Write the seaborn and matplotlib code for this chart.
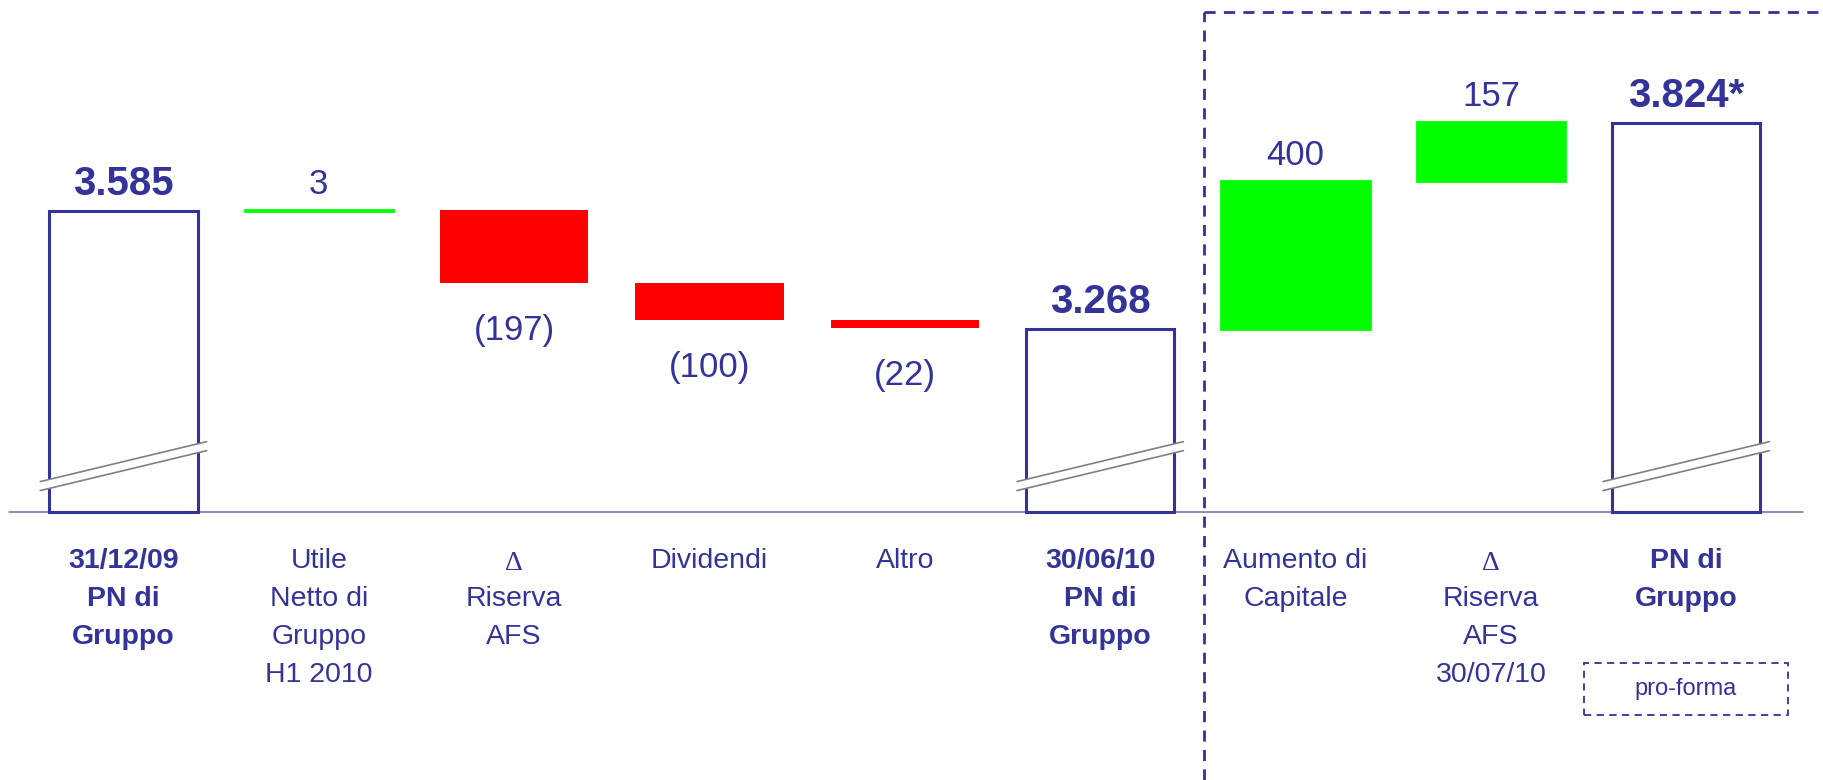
import numpy as np
import pandas as pd
import matplotlib
matplotlib.use("Agg")
import matplotlib.pyplot as plt
import seaborn as sns
from matplotlib.patches import Polygon, Rectangle
from matplotlib.lines import Line2D

# ---------------- data ----------------
keys = ["pn_0912", "utile", "afs", "dividendi", "altro", "pn_1006",
        "aumento", "afs_0710", "pn_proforma"]
category_lines = [
    ["31/12/09", "PN di", "Gruppo"],
    ["Utile", "Netto di", "Gruppo", "H1 2010"],
    ["Δ", "Riserva", "AFS"],
    ["Dividendi"],
    ["Altro"],
    ["30/06/10", "PN di", "Gruppo"],
    ["Aumento di", "Capitale"],
    ["Δ", "Riserva", "AFS", "30/07/10"],
    ["PN di", "Gruppo"],
]
kinds = ["total", "delta", "delta", "delta", "delta", "total", "delta", "delta", "total"]
values = [3585, 3, -197, -100, -22, 3268, 400, 157, 3824]
value_labels = ["3.585", "3", "(197)", "(100)", "(22)", "3.268", "400", "157", "3.824*"]
axis_floor = 2772          # value at which the (broken) axis starts
proforma_note = "pro-forma"

# ---------------- styling ----------------
NAVY = "#333399"
GREEN = "#00FF00"
RED = "#FF0000"
GRAY = "#808080"

sns.set_theme(style="white")
plt.rcParams["font.family"] = ["Liberation Sans", "DejaVu Sans"]

W, H = 1823, 780
fig = plt.figure(figsize=(W / 100, H / 100), dpi=100)
ax = fig.add_axes([0, 0, 1, 1])

# waterfall geometry
bottoms, heights, colors = [], [], []
running = 0
for kind, v in zip(kinds, values):
    if kind == "total":
        bottoms.append(axis_floor)
        heights.append(v - axis_floor)
        colors.append("white")
        running = v
    else:
        lo = min(running, running + v)
        bottoms.append(lo)
        heights.append(abs(v))
        colors.append(GREEN if v > 0 else RED)
        running += v

df = pd.DataFrame({"key": keys, "height": heights})
bar_w = 0.76
sns.barplot(data=df, x="key", y="height", hue="key", palette=colors,
            width=bar_w, saturation=1, legend=False, ax=ax, order=keys,
            hue_order=keys)

XLIM = (-0.632, 8.70)
YLIM = (2048, 4156)
ax.set_xlim(*XLIM)
ax.set_ylim(*YLIM)
ax.axis("off")

for p, b, kind, v in zip(ax.patches, bottoms, kinds, values):
    p.set_y(b)
    if kind == "total":
        p.set_facecolor("white")
        p.set_edgecolor(NAVY)
        p.set_linewidth(2.2)
    else:
        c = GREEN if v > 0 else RED
        p.set_edgecolor(c)
        p.set_linewidth(2.0 if v > 0 else 0)
    p.set_zorder(2)

px_x = W / (XLIM[1] - XLIM[0])   # pixels per category unit
px_y = H / (YLIM[1] - YLIM[0])   # pixels per value unit

# break marks on total bars
slope_px = 0.24
for i, kind in enumerate(kinds):
    if kind != "total":
        continue
    ext = 9 / px_x
    xl, xr = i - bar_w / 2 - ext, i + bar_w / 2 + ext
    yc = axis_floor + 46 / px_y
    half_t = 4.5 / px_y
    dy = lambda x: (x - i) * px_x * slope_px / px_y
    yl, yr = yc + dy(xl), yc + dy(xr)
    poly = Polygon([(xl, yl - half_t), (xr, yr - half_t), (xr, yr + half_t), (xl, yl + half_t)],
                   closed=True, facecolor="white", edgecolor="none", zorder=3)
    ax.add_patch(poly)
    for s in (-1, 1):
        ax.add_line(Line2D([xl, xr], [yl + s * half_t, yr + s * half_t],
                           color=GRAY, lw=1.2, zorder=4))

# baseline
ax.axhline(axis_floor, xmin=9 / W, xmax=1803 / W, color="#6a6aaa", lw=1.1, zorder=1)

# value labels
for i, (kind, v, lab, b, h) in enumerate(zip(kinds, values, value_labels, bottoms, heights)):
    bold = kind == "total"
    fs = 29 if bold else 25
    if kind == "total" or v > 0:
        ax.annotate(lab, xy=(i, b + h), xytext=(0, 16), textcoords="offset pixels",
                    ha="center", va="baseline", fontsize=fs, color=NAVY,
                    fontweight="bold" if bold else "normal", zorder=5)
    else:
        ax.annotate(lab, xy=(i, b), xytext=(0, -57), textcoords="offset pixels",
                    ha="center", va="baseline", fontsize=fs, color=NAVY, zorder=5)

# category labels
trans = ax.get_xaxis_transform()
for i, (kind, lines) in enumerate(zip(kinds, category_lines)):
    for j, line in enumerate(lines):
        ypx = 561 + 38 * j
        if line == "Δ":
            ax.text(i, 1 - (ypx + 2) / H, line, transform=trans, ha="center", va="center",
                    fontsize=20, color=NAVY, family=["Liberation Serif", "DejaVu Serif"])
        else:
            ax.text(i, 1 - ypx / H, line, transform=trans, ha="center", va="center",
                    fontsize=20.5, color=NAVY,
                    fontweight="bold" if kind == "total" else "normal")

# dashed separator for the pro-forma section
sep_x = 1204 / W
top_y = 1 - 12 / H
ax.add_line(Line2D([sep_x, sep_x], [0, top_y], transform=ax.transAxes, color=NAVY,
                   lw=2, linestyle=(0, (4, 3)), zorder=1, clip_on=False))
ax.add_line(Line2D([sep_x, 1.0], [top_y, top_y], transform=ax.transAxes, color=NAVY,
                   lw=2, linestyle=(0, (4, 3)), zorder=1, clip_on=False))

# pro-forma box
bx0, bx1 = 1584 / W, 1788 / W
by0, by1 = 1 - 715 / H, 1 - 663 / H
ax.add_patch(Rectangle((bx0, by0), bx1 - bx0, by1 - by0, transform=ax.transAxes,
                       fill=False, edgecolor=NAVY, lw=1.3, linestyle=(0, (4, 3)), zorder=1))
ax.text((bx0 + bx1) / 2, (by0 + by1) / 2, proforma_note, transform=ax.transAxes,
        ha="center", va="center", fontsize=17, color=NAVY)

fig.savefig("out.png", dpi=100, facecolor="white")
